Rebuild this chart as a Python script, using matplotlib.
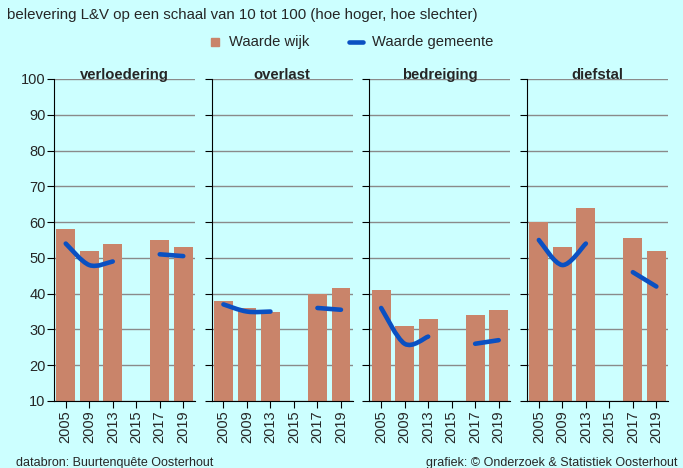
"""Belevering leefbaarheid & veiligheid: wijk vs gemeente per thema."""
import matplotlib
matplotlib.use("Agg")
import matplotlib.pyplot as plt
from matplotlib.path import Path
from matplotlib.patches import PathPatch
import numpy as np

plt.rcParams["font.family"] = ["Liberation Sans", "DejaVu Sans"]

YEARS = ["2005", "2009", "2013", "2015", "2017", "2019"]
THEMES = ["verloedering", "overlast", "bedreiging", "diefstal"]

# waarde wijk (None = geen meting)
wijk_verloedering = [58, 52, 54, None, 55, 53]
wijk_overlast = [38, 36, 35, None, 40, 41.5]
wijk_bedreiging = [41, 31, 33, None, 34, 35.5]
wijk_diefstal = [60, 53, 64, None, 55.5, 52]

# waarde gemeente
gem_verloedering = [54, 48, 49, None, 51, 50.5]
gem_overlast = [37, 35, 35, None, 36, 35.5]
gem_bedreiging = [36, 26, 28, None, 26, 27]
gem_diefstal = [55, 48, 54, None, 46, 42]

WIJK = [wijk_verloedering, wijk_overlast, wijk_bedreiging, wijk_diefstal]
GEMEENTE = [gem_verloedering, gem_overlast, gem_bedreiging, gem_diefstal]

BG = "#ccffff"
BAR_COLOR = "#c9846a"
LINE_COLOR = "#0a50c2"
GRID_COLOR = "#8a8a8a"
TEXT_COLOR = "#262626"


def smooth_path(xs, ys):
    """Catmull-Rom curve through the points, as cubic bezier segments."""
    pts = np.column_stack([xs, ys]).astype(float)
    if len(pts) == 2:
        return Path(pts, [Path.MOVETO, Path.LINETO])
    verts = [pts[0]]
    codes = [Path.MOVETO]
    n = len(pts)
    for i in range(n - 1):
        p0 = pts[max(i - 1, 0)]
        p1, p2 = pts[i], pts[i + 1]
        p3 = pts[min(i + 2, n - 1)]
        c1 = p1 + (p2 - p0) / 6
        c2 = p2 - (p3 - p1) / 6
        verts += [c1, c2, p2]
        codes += [Path.CURVE4] * 3
    return Path(np.array(verts), codes)


def runs(values):
    """Split a series into consecutive non-missing runs."""
    out, cur = [], []
    for i, v in enumerate(values):
        if v is None:
            if cur:
                out.append(cur)
            cur = []
        else:
            cur.append(i)
    if cur:
        out.append(cur)
    return out


fig = plt.figure(figsize=(6.83, 4.68), dpi=100, facecolor=BG)
W, H = 683, 468
x = np.arange(len(YEARS))

for k, theme in enumerate(THEMES):
    left = 54 + k * 157.7
    ax = fig.add_axes([left / W, 1 - 401 / H, 141 / W, 322 / H])
    ax.set_facecolor(BG)
    ax.set_xlim(-0.5, len(YEARS) - 0.5)
    ax.set_ylim(10, 100)
    ax.set_yticks(range(10, 101, 10))
    ax.yaxis.grid(True, color=GRID_COLOR, lw=1.0)
    ax.set_axisbelow(True)

    vals = WIJK[k]
    ax.bar(x, [v - 10 if v is not None else 0 for v in vals], bottom=10, width=0.8,
           color=BAR_COLOR, zorder=2)

    g = GEMEENTE[k]
    for r in runs(g):
        path = smooth_path([x[i] for i in r], [g[i] for i in r])
        ax.add_patch(PathPatch(path, fc="none", ec=LINE_COLOR, lw=3.3,
                               capstyle="round", joinstyle="round", zorder=3))

    for s in ["top", "right"]:
        ax.spines[s].set_visible(False)
    ax.spines["left"].set_color("black")
    ax.spines["bottom"].set_color("black")
    ax.set_xticks(x)
    ax.set_xticklabels(YEARS, rotation=90, fontsize=10.5, color=TEXT_COLOR)
    ax.tick_params(axis="x", length=5, pad=2, color="black")
    ax.tick_params(axis="y", length=5, color="black", labelsize=10.5,
                   labelcolor=TEXT_COLOR, pad=1)
    if k > 0:
        ax.set_yticklabels([])
    ax.text(0.5, 1 + 4 / 322, theme, transform=ax.transAxes, ha="center", va="center",
            fontsize=10.7, fontweight="bold", color=TEXT_COLOR)

fig.text(7 / W, 1 - 15 / H, "belevering L&V op een schaal van 10 tot 100 (hoe hoger, hoe slechter)",
         fontsize=10.8, color=TEXT_COLOR, va="center")

# legend
fig.patches.append(plt.Rectangle((211 / W, 1 - 46 / H), 8 / W, 8 / H, transform=fig.transFigure,
                                 color=BAR_COLOR))
fig.text(229 / W, 1 - 42 / H, "Waarde wijk", fontsize=10.6, color=TEXT_COLOR, va="center")
fig.lines.append(plt.Line2D([349 / W, 363 / W], [1 - 42 / H, 1 - 42 / H], transform=fig.transFigure,
                            color=LINE_COLOR, lw=3.3, solid_capstyle="round"))
fig.text(372 / W, 1 - 42 / H, "Waarde gemeente", fontsize=10.6, color=TEXT_COLOR, va="center")

fig.text(16 / W, 1 - 463 / H, "databron: Buurtenquête Oosterhout", fontsize=9, color=TEXT_COLOR, va="center")
fig.text(678 / W, 1 - 463 / H, "grafiek: © Onderzoek & Statistiek Oosterhout", fontsize=9,
         color=TEXT_COLOR, va="center", ha="right")

fig.savefig("out.png", dpi=100, facecolor=BG)
